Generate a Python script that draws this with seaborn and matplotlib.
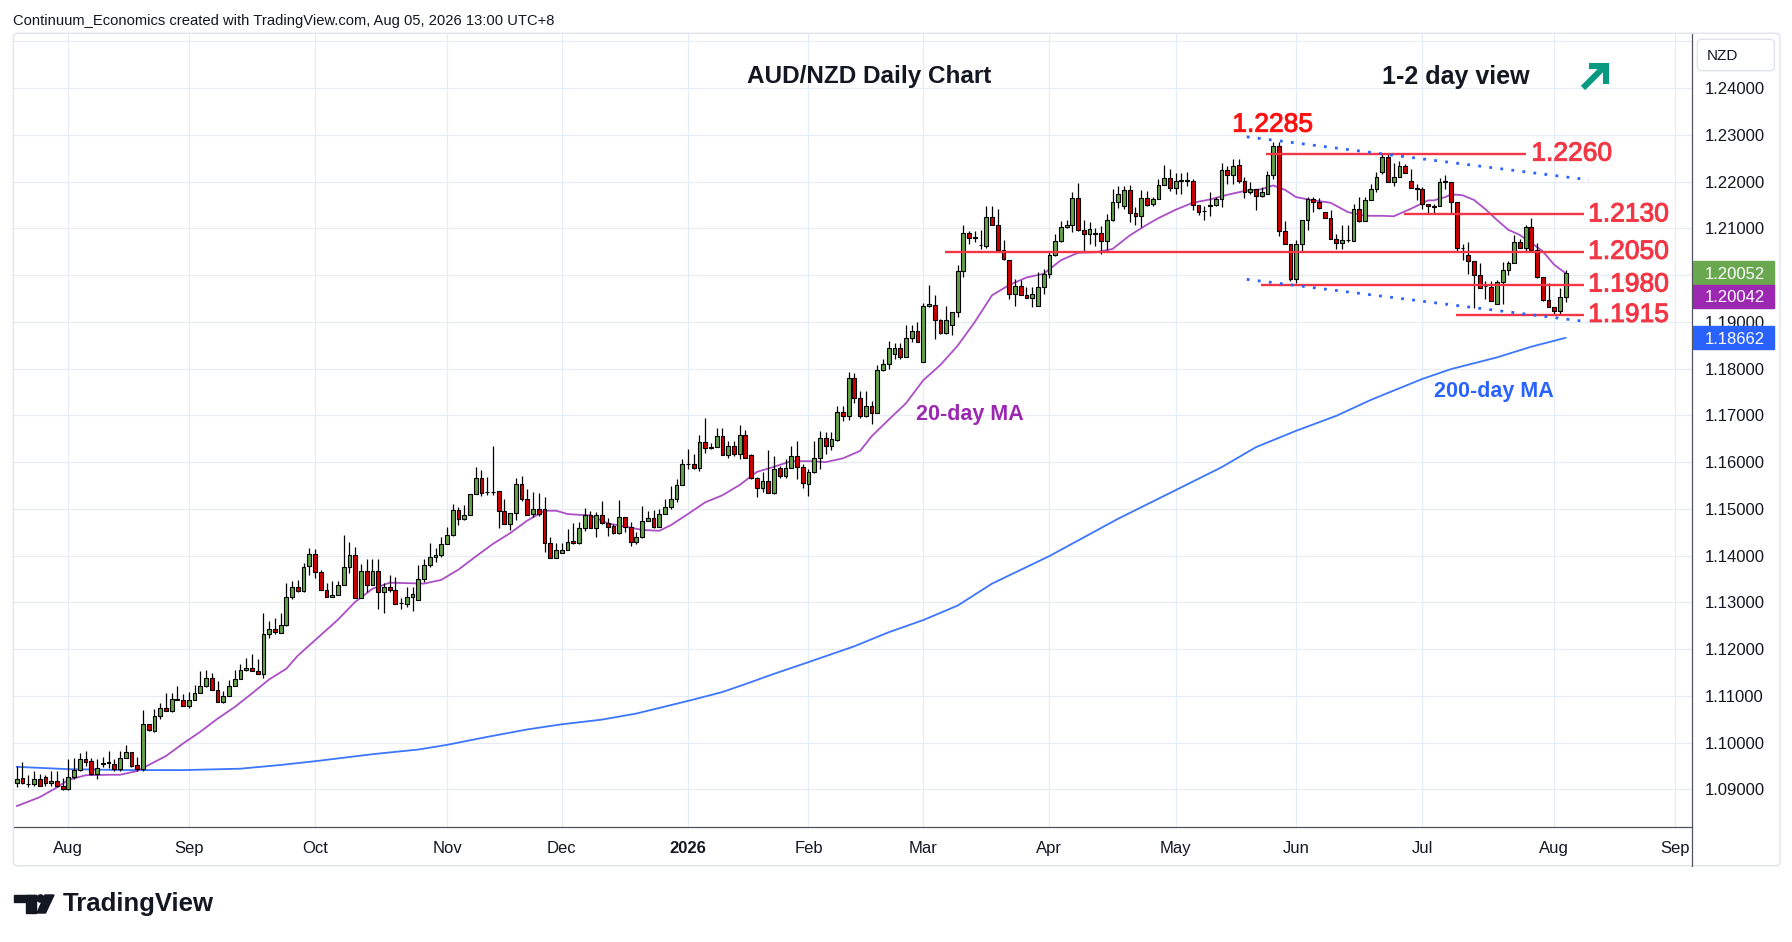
import numpy as np
import pandas as pd
import seaborn as sns
import matplotlib.pyplot as plt
import matplotlib.patheffects as pe
from matplotlib.patches import Rectangle, FancyBboxPatch, Circle, Polygon
from matplotlib.transforms import blended_transform_factory

# AUD/NZD daily candles, 21 Jul 2025 - 5 Aug 2026
opens = [
    1.0913, 1.0924, 1.0912, 1.0911, 1.0921, 1.0926, 1.0913, 1.0918, 1.0906, 1.0900,
    1.0926, 1.0941, 1.0964, 1.0960, 1.0933, 1.0953, 1.0957, 1.0955, 1.0943, 1.0966,
    1.0979, 1.0951, 1.0943, 1.1039, 1.1025, 1.1057, 1.1073, 1.1068, 1.1094, 1.1092,
    1.1079, 1.1090, 1.1107, 1.1120, 1.1139, 1.1113, 1.1087, 1.1099, 1.1122, 1.1135,
    1.1156, 1.1160, 1.1154, 1.1147, 1.1233, 1.1242, 1.1235, 1.1252, 1.1312, 1.1333,
    1.1325, 1.1377, 1.1404, 1.1365, 1.1327, 1.1312, 1.1316, 1.1338, 1.1375, 1.1402,
    1.1309, 1.1368, 1.1338, 1.1368, 1.1321, 1.1333, 1.1327, 1.1299, 1.1297, 1.1312,
    1.1306, 1.1350, 1.1380, 1.1397, 1.1402, 1.1425, 1.1444, 1.1498, 1.1478, 1.1487,
    1.1532, 1.1566, 1.1537, 1.1536, 1.1538, 1.1495, 1.1468, 1.1491, 1.1553, 1.1521,
    1.1490, 1.1500, 1.1500, 1.1427, 1.1395, 1.1406, 1.1411, 1.1431, 1.1426, 1.1460,
    1.1487, 1.1460, 1.1486, 1.1469, 1.1463, 1.1448, 1.1482, 1.1461, 1.1428, 1.1440,
    1.1475, 1.1480, 1.1462, 1.1488, 1.1503, 1.1522, 1.1550, 1.1595, 1.1595, 1.1588,
    1.1642, 1.1630, 1.1632, 1.1655, 1.1615, 1.1635, 1.1617, 1.1657, 1.1615, 1.1566,
    1.1545, 1.1559, 1.1534, 1.1588, 1.1571, 1.1588, 1.1614, 1.1590, 1.1554, 1.1578,
    1.1608, 1.1652, 1.1635, 1.1648, 1.1708, 1.1698, 1.1780, 1.1738, 1.1699, 1.1719,
    1.1705, 1.1797, 1.1809, 1.1831, 1.1844, 1.1824, 1.1865, 1.1880, 1.1814, 1.1934,
    1.1937, 1.1903, 1.1877, 1.1893, 1.1922, 1.2008, 1.2091, 1.2080, 1.2065, 1.2063,
    1.2125, 1.2108, 1.2053, 1.2032, 1.1959, 1.1977, 1.1957, 1.1952, 1.1935, 1.1974,
    1.2003, 1.2043, 1.2074, 1.2102, 1.2108, 1.2166, 1.2097, 1.2087, 1.2087, 1.2091,
    1.2073, 1.2119, 1.2157, 1.2148, 1.2183, 1.2134, 1.2126, 1.2165, 1.2152, 1.2163,
    1.2193, 1.2208, 1.2187, 1.2202, 1.2203, 1.2202, 1.2150, 1.2137, 1.2148, 1.2150,
    1.2163, 1.2225, 1.2214, 1.2236, 1.2201, 1.2179, 1.2184, 1.2169, 1.2174, 1.2214,
    1.2277, 1.2095, 1.2067, 1.1991, 1.2067, 1.2117, 1.2162, 1.2157, 1.2136, 1.2122,
    1.2077, 1.2068, 1.2075, 1.2073, 1.2142, 1.2116, 1.2160, 1.2184, 1.2220, 1.2252,
    1.2199, 1.2210, 1.2234, 1.2202, 1.2186, 1.2184, 1.2152, 1.2147, 1.2149, 1.2200,
    1.2200, 1.2156, 1.2058, 1.2044, 1.2030, 1.2000, 1.1976, 1.1975, 1.1939, 1.1985,
    1.2011, 1.2025, 1.2071, 1.2058, 1.2104, 1.2053, 1.1996, 1.1947, 1.1932, 1.1923, 1.1953,
]
highs = [
    1.0950, 1.0958, 1.0930, 1.0939, 1.0933, 1.0931, 1.0938, 1.0938, 1.0924, 1.0965,
    1.0967, 1.0977, 1.0982, 1.0967, 1.0964, 1.0968, 1.0982, 1.0965, 1.0982, 1.0994,
    1.0979, 1.0968, 1.1069, 1.1039, 1.1071, 1.1085, 1.1105, 1.1105, 1.1122, 1.1103,
    1.1109, 1.1124, 1.1152, 1.1156, 1.1149, 1.1132, 1.1110, 1.1133, 1.1156, 1.1168,
    1.1181, 1.1190, 1.1178, 1.1278, 1.1260, 1.1266, 1.1278, 1.1341, 1.1346, 1.1348,
    1.1385, 1.1417, 1.1414, 1.1370, 1.1342, 1.1345, 1.1345, 1.1445, 1.1428, 1.1419,
    1.1382, 1.1393, 1.1393, 1.1392, 1.1342, 1.1358, 1.1355, 1.1309, 1.1332, 1.1332,
    1.1380, 1.1393, 1.1427, 1.1416, 1.1440, 1.1461, 1.1511, 1.1505, 1.1509, 1.1532,
    1.1589, 1.1583, 1.1569, 1.1635, 1.1538, 1.1521, 1.1491, 1.1566, 1.1570, 1.1542,
    1.1535, 1.1533, 1.1525, 1.1439, 1.1427, 1.1427, 1.1457, 1.1470, 1.1471, 1.1502,
    1.1495, 1.1493, 1.1517, 1.1480, 1.1468, 1.1519, 1.1482, 1.1472, 1.1451, 1.1507,
    1.1495, 1.1497, 1.1499, 1.1522, 1.1548, 1.1563, 1.1606, 1.1629, 1.1617, 1.1657,
    1.1694, 1.1640, 1.1674, 1.1674, 1.1646, 1.1646, 1.1679, 1.1668, 1.1617, 1.1568,
    1.1578, 1.1625, 1.1614, 1.1591, 1.1606, 1.1634, 1.1646, 1.1597, 1.1586, 1.1646,
    1.1667, 1.1665, 1.1664, 1.1721, 1.1721, 1.1792, 1.1790, 1.1753, 1.1753, 1.1730,
    1.1808, 1.1820, 1.1859, 1.1855, 1.1855, 1.1893, 1.1893, 1.1899, 1.1940, 1.1980,
    1.1958, 1.1906, 1.1935, 1.1922, 1.2022, 1.2108, 1.2095, 1.2095, 1.2097, 1.2149,
    1.2148, 1.2142, 1.2076, 1.2032, 1.1991, 1.1989, 1.1975, 1.1974, 1.2006, 1.2013,
    1.2051, 1.2089, 1.2116, 1.2117, 1.2178, 1.2198, 1.2117, 1.2114, 1.2101, 1.2105,
    1.2131, 1.2185, 1.2191, 1.2191, 1.2193, 1.2146, 1.2183, 1.2181, 1.2167, 1.2206,
    1.2236, 1.2227, 1.2218, 1.2218, 1.2220, 1.2206, 1.2150, 1.2147, 1.2179, 1.2167,
    1.2241, 1.2233, 1.2248, 1.2248, 1.2211, 1.2199, 1.2184, 1.2189, 1.2223, 1.2285,
    1.2285, 1.2116, 1.2067, 1.2075, 1.2117, 1.2167, 1.2167, 1.2165, 1.2136, 1.2140,
    1.2089, 1.2108, 1.2108, 1.2152, 1.2167, 1.2167, 1.2196, 1.2220, 1.2261, 1.2261,
    1.2241, 1.2244, 1.2237, 1.2228, 1.2194, 1.2189, 1.2152, 1.2152, 1.2207, 1.2215,
    1.2200, 1.2156, 1.2067, 1.2071, 1.2030, 1.2025, 1.1988, 1.1987, 1.1990, 1.2029,
    1.2030, 1.2086, 1.2078, 1.2108, 1.2123, 1.2069, 1.1996, 1.1983, 1.1932, 1.1973, 1.2012,
]
lows = [
    1.0904, 1.0911, 1.0904, 1.0906, 1.0906, 1.0908, 1.0907, 1.0904, 1.0899, 1.0898,
    1.0921, 1.0938, 1.0950, 1.0931, 1.0923, 1.0948, 1.0945, 1.0940, 1.0938, 1.0966,
    1.0948, 1.0940, 1.0940, 1.1024, 1.1023, 1.1050, 1.1067, 1.1066, 1.1090, 1.1078,
    1.1073, 1.1090, 1.1105, 1.1119, 1.1113, 1.1087, 1.1085, 1.1099, 1.1120, 1.1135,
    1.1154, 1.1153, 1.1147, 1.1137, 1.1224, 1.1233, 1.1235, 1.1249, 1.1307, 1.1323,
    1.1323, 1.1359, 1.1353, 1.1327, 1.1311, 1.1311, 1.1315, 1.1338, 1.1363, 1.1309,
    1.1309, 1.1322, 1.1336, 1.1286, 1.1277, 1.1323, 1.1296, 1.1286, 1.1291, 1.1282,
    1.1306, 1.1343, 1.1375, 1.1386, 1.1397, 1.1425, 1.1442, 1.1466, 1.1477, 1.1487,
    1.1532, 1.1527, 1.1530, 1.1530, 1.1459, 1.1468, 1.1455, 1.1477, 1.1517, 1.1487,
    1.1482, 1.1484, 1.1407, 1.1395, 1.1394, 1.1406, 1.1411, 1.1424, 1.1424, 1.1453,
    1.1459, 1.1439, 1.1468, 1.1441, 1.1446, 1.1446, 1.1450, 1.1421, 1.1424, 1.1438,
    1.1473, 1.1460, 1.1462, 1.1488, 1.1499, 1.1514, 1.1550, 1.1586, 1.1586, 1.1581,
    1.1620, 1.1627, 1.1632, 1.1615, 1.1609, 1.1612, 1.1606, 1.1609, 1.1563, 1.1525,
    1.1536, 1.1534, 1.1532, 1.1567, 1.1567, 1.1587, 1.1563, 1.1545, 1.1528, 1.1576,
    1.1585, 1.1617, 1.1625, 1.1645, 1.1688, 1.1690, 1.1726, 1.1694, 1.1696, 1.1682,
    1.1705, 1.1795, 1.1800, 1.1820, 1.1821, 1.1824, 1.1856, 1.1856, 1.1814, 1.1932,
    1.1863, 1.1874, 1.1874, 1.1871, 1.1910, 1.1995, 1.2066, 1.2070, 1.2055, 1.2058,
    1.2107, 1.2053, 1.2033, 1.1948, 1.1935, 1.1957, 1.1951, 1.1931, 1.1935, 1.1960,
    1.1993, 1.2040, 1.2072, 1.2100, 1.2092, 1.2095, 1.2050, 1.2067, 1.2062, 1.2045,
    1.2053, 1.2116, 1.2143, 1.2141, 1.2113, 1.2107, 1.2103, 1.2149, 1.2149, 1.2163,
    1.2192, 1.2181, 1.2174, 1.2174, 1.2191, 1.2140, 1.2129, 1.2117, 1.2126, 1.2147,
    1.2145, 1.2194, 1.2194, 1.2198, 1.2165, 1.2173, 1.2139, 1.2167, 1.2174, 1.2205,
    1.2084, 1.2067, 1.1988, 1.1983, 1.2050, 1.2097, 1.2136, 1.2142, 1.2122, 1.2077,
    1.2056, 1.2056, 1.2072, 1.2073, 1.2114, 1.2116, 1.2160, 1.2179, 1.2216, 1.2199,
    1.2191, 1.2209, 1.2219, 1.2186, 1.2160, 1.2142, 1.2132, 1.2131, 1.2147, 1.2184,
    1.2133, 1.2052, 1.2033, 1.2002, 1.1929, 1.1973, 1.1949, 1.1944, 1.1938, 1.1939,
    1.2001, 1.2025, 1.2058, 1.2050, 1.2052, 1.1993, 1.1944, 1.1932, 1.1917, 1.1917, 1.1942,
]
closes = [
    1.0923, 1.0913, 1.0911, 1.0921, 1.0906, 1.0913, 1.0918, 1.0906, 1.0900, 1.0926,
    1.0941, 1.0964, 1.0959, 1.0933, 1.0945, 1.0957, 1.0958, 1.0943, 1.0966, 1.0979,
    1.0950, 1.0943, 1.1039, 1.1026, 1.1056, 1.1073, 1.1068, 1.1094, 1.1092, 1.1079,
    1.1090, 1.1107, 1.1120, 1.1139, 1.1113, 1.1087, 1.1099, 1.1122, 1.1135, 1.1156,
    1.1160, 1.1154, 1.1147, 1.1233, 1.1242, 1.1236, 1.1252, 1.1312, 1.1333, 1.1324,
    1.1376, 1.1404, 1.1365, 1.1327, 1.1312, 1.1316, 1.1338, 1.1375, 1.1402, 1.1309,
    1.1368, 1.1338, 1.1368, 1.1321, 1.1333, 1.1326, 1.1297, 1.1298, 1.1312, 1.1317,
    1.1350, 1.1380, 1.1397, 1.1402, 1.1425, 1.1444, 1.1498, 1.1478, 1.1487, 1.1532,
    1.1566, 1.1534, 1.1536, 1.1537, 1.1495, 1.1468, 1.1491, 1.1553, 1.1521, 1.1487,
    1.1500, 1.1490, 1.1427, 1.1395, 1.1412, 1.1411, 1.1430, 1.1427, 1.1460, 1.1487,
    1.1460, 1.1486, 1.1469, 1.1462, 1.1448, 1.1482, 1.1461, 1.1428, 1.1440, 1.1475,
    1.1480, 1.1462, 1.1488, 1.1503, 1.1522, 1.1550, 1.1595, 1.1596, 1.1588, 1.1642,
    1.1630, 1.1632, 1.1655, 1.1615, 1.1635, 1.1617, 1.1657, 1.1609, 1.1566, 1.1545,
    1.1559, 1.1534, 1.1586, 1.1571, 1.1588, 1.1614, 1.1590, 1.1556, 1.1578, 1.1608,
    1.1652, 1.1635, 1.1650, 1.1708, 1.1698, 1.1780, 1.1738, 1.1699, 1.1719, 1.1705,
    1.1797, 1.1809, 1.1844, 1.1844, 1.1824, 1.1865, 1.1880, 1.1858, 1.1934, 1.1938,
    1.1903, 1.1877, 1.1905, 1.1922, 1.2008, 1.2091, 1.2080, 1.2081, 1.2064, 1.2125,
    1.2108, 1.2053, 1.2035, 1.1959, 1.1977, 1.1957, 1.1952, 1.1959, 1.1974, 1.2003,
    1.2043, 1.2074, 1.2102, 1.2108, 1.2166, 1.2097, 1.2087, 1.2099, 1.2091, 1.2073,
    1.2119, 1.2157, 1.2174, 1.2183, 1.2134, 1.2126, 1.2165, 1.2151, 1.2163, 1.2193,
    1.2208, 1.2187, 1.2202, 1.2203, 1.2202, 1.2150, 1.2136, 1.2138, 1.2150, 1.2163,
    1.2225, 1.2214, 1.2233, 1.2201, 1.2179, 1.2184, 1.2169, 1.2177, 1.2214, 1.2277,
    1.2095, 1.2067, 1.1991, 1.2067, 1.2117, 1.2162, 1.2157, 1.2143, 1.2122, 1.2077,
    1.2068, 1.2075, 1.2075, 1.2142, 1.2116, 1.2160, 1.2184, 1.2209, 1.2252, 1.2199,
    1.2210, 1.2234, 1.2219, 1.2186, 1.2185, 1.2152, 1.2147, 1.2146, 1.2200, 1.2200,
    1.2156, 1.2058, 1.2058, 1.2030, 1.2000, 1.1973, 1.1976, 1.1944, 1.1985, 1.2011,
    1.2025, 1.2071, 1.2059, 1.2104, 1.2053, 1.1996, 1.1947, 1.1932, 1.1923, 1.1953, 1.2005,
]

# moving averages sampled along the chart (bar number -> value)
ma20_bar = [1, 5, 8, 10, 13, 17, 19, 22, 24, 27, 30, 33, 36, 39, 42, 45, 48, 50,
            57, 60, 63, 66, 69, 72, 75, 78, 81, 84, 87, 90, 93, 95, 97,
            98, 101, 104, 107, 110, 113, 115, 118, 121, 124, 127, 130, 133, 136, 139, 142, 145, 148,
            150, 153, 156, 159, 162, 165, 168, 171, 174, 177, 180, 183, 186, 189, 192, 195, 198,
            200, 203, 206, 209, 212, 215, 218, 220, 222, 224, 227, 230, 233, 236, 239, 241, 244, 247,
            248, 250, 251, 253, 255, 257, 259, 261, 263, 265, 267, 269, 271]
ma20_val = [1.0864, 1.0883, 1.0904, 1.0920, 1.0930, 1.0931, 1.0931, 1.0939, 1.0952, 1.0971,
            1.0998, 1.1023, 1.1051, 1.1076, 1.1105, 1.1135, 1.1158, 1.1186,
            1.1263, 1.1301, 1.1329, 1.1342, 1.1341, 1.1340, 1.1348, 1.1370, 1.1398, 1.1425,
            1.1448, 1.1475, 1.1496, 1.1496, 1.1489,
            1.1488, 1.1486, 1.1469, 1.1462, 1.1455, 1.1453, 1.1465, 1.1489, 1.1514, 1.1529,
            1.1551, 1.1579, 1.1590, 1.1602, 1.1602, 1.1600, 1.1608, 1.1624,
            1.1655, 1.1691, 1.1726, 1.1775, 1.1808, 1.1849, 1.1900, 1.1957, 1.1979, 1.1995,
            1.2003, 1.2032, 1.2048, 1.2049, 1.2056, 1.2085, 1.2108,
            1.2122, 1.2140, 1.2155, 1.2162, 1.2172, 1.2180, 1.2184, 1.2192, 1.2183, 1.2167,
            1.2160, 1.2155, 1.2135, 1.2127, 1.2127, 1.2126, 1.2142, 1.2160,
            1.2160, 1.2167, 1.2173, 1.2171, 1.2161, 1.2141, 1.2118, 1.2097, 1.2086, 1.2069,
            1.2051, 1.2022, 1.2004]
ma200_bar = [1, 10, 20, 30, 40, 47, 53, 63, 71, 76, 83, 90, 96, 103, 109, 118, 124, 128,
             133, 139, 147, 153, 159, 165, 171, 181, 187, 193, 203, 211, 217, 224, 231,
             237, 246, 251, 259, 265, 271]
ma200_val = [1.0948, 1.0943, 1.0941, 1.0941, 1.0944, 1.0952, 1.0960, 1.0975, 1.0985, 1.0995,
             1.1012, 1.1028, 1.1039, 1.1049, 1.1062, 1.1089, 1.1108, 1.1125, 1.1147, 1.1172,
             1.1206, 1.1236, 1.1262, 1.1293, 1.1340, 1.1399, 1.1439, 1.1479, 1.1540, 1.1589,
             1.1632, 1.1667, 1.1699, 1.1733, 1.1778, 1.1799, 1.1824, 1.1847, 1.1866]

# key levels and the channel drawn on the chart
levels = [1.2260, 1.2130, 1.2050, 1.1980, 1.1915]
peak = 1.2285
channel_top = [1.2296, 1.2204]
channel_bottom = [1.1991, 1.1900]
last_close, last_ma20, last_ma200 = 1.20052, 1.20042, 1.18662

W, H = 1792, 942
GREEN, RED = '#64a24a', '#d00000'
LEVEL_RED = '#f23645'
GRID = '#e6ecf3'
TEXT = '#131722'

sns.set_theme(style='white')
plt.rcParams['font.family'] = ['Liberation Sans', 'DejaVu Sans']

fig = plt.figure(figsize=(W / 100, H / 100), dpi=100)
ax = fig.add_axes([13.4 / W, 1 - 827.3 / H, (1692 - 13.4) / W, (827.3 - 34) / H])
ax.set_xlim(0.42, 293.0)
ax.set_ylim(1.08186, 1.2516)

# trading days (no bars on Christmas / New Year)
days = pd.bdate_range('2025-07-21', '2026-09-30')
days = days[~days.isin(pd.to_datetime(['2025-12-25', '2026-01-01']))]
bar_no = np.arange(1, len(days) + 1)
month_start = ~pd.Series(days.to_period('M')).duplicated().values
month_start &= days >= '2025-08-01'
tick_pos = bar_no[month_start]
tick_lab = ['2026' if d.month == 1 else d.strftime('%b') for d in days[month_start]]

# grid
for p in np.round(np.arange(1.09, 1.2501, 0.01), 2):
    ax.axhline(p, color=GRID, lw=0.8, zorder=0)
for xp in tick_pos:
    ax.axvline(xp, color=GRID, lw=0.8, zorder=0)

# moving averages
sns.lineplot(x=ma200_bar, y=ma200_val, ax=ax, color='#3b76ff', lw=1.3, sort=False,
             estimator=None, zorder=2)
sns.lineplot(x=ma20_bar, y=ma20_val, ax=ax, color='#ab4fc6', lw=1.3, sort=False,
             estimator=None, zorder=2)

# candles
o, h, l, c = map(np.array, (opens, highs, lows, closes))
x = np.arange(1, len(c) + 1)
up = c >= o
ax.vlines(x, l, h, color='black', lw=0.9, zorder=3)
ax.bar(x, np.maximum(np.abs(c - o), 0.00004), bottom=np.minimum(o, c), width=0.66,
       color=np.where(up, GREEN, RED), edgecolor='black', linewidth=0.8, zorder=4)

# levels
thick = [pe.withStroke(linewidth=0.7, foreground=LEVEL_RED)]
spans = [(218.8, 264.0), (242.8, 274.1), (162.8, 274.1), (217.8, 274.1), (251.8, 274.1)]
for lev, (x0, x1) in zip(levels, spans):
    ax.hlines(lev, x0, x1, color=LEVEL_RED, lw=1.7, zorder=5)
    tx = 265.0 if lev == levels[0] else 274.9
    ax.text(tx, lev, f'{lev:.4f}', color=LEVEL_RED, fontsize=19, ha='left',
            va='center', zorder=6, path_effects=thick)
ax.text(219.9, 1.2322, f'{peak:.4f}', color='#ff1010', fontsize=19, ha='center',
        va='center', zorder=6,
        path_effects=[pe.withStroke(linewidth=0.7, foreground='#ff1010')])

# channel
for ys in (channel_top, channel_bottom):
    ax.plot([215.4, 275.0], ys, color='#2962ff', lw=2.0, ls=(0, (1, 3)), zorder=5)

ax.text(167.2, 1.1708, '20-day MA', color='#9c27b0', fontsize=15.5, fontweight='bold',
        ha='center', va='center_baseline')
ax.text(258.5, 1.1757, '200-day MA', color='#2962ff', fontsize=15.5, fontweight='bold',
        ha='center', va='center_baseline')

# axes
ax.yaxis.tick_right()
yt = np.round(np.arange(1.09, 1.2401, 0.01), 2)
ax.set_yticks(yt)
ax.set_yticklabels([f'{v:.5f}' for v in yt], fontsize=12, color=TEXT)
ax.set_xticks(tick_pos)
ax.set_xticklabels(tick_lab, fontsize=12, color=TEXT)
for t in ax.get_xticklabels():
    if t.get_text() == '2026':
        t.set_fontweight('bold')
ax.tick_params(axis='y', length=0, pad=9.5)
ax.tick_params(axis='x', length=0, pad=10)
ax.grid(False)
for s in ('top', 'left', 'right'):
    ax.spines[s].set_visible(False)
ax.spines['bottom'].set_color('#50535e')
ax.spines['bottom'].set_linewidth(0.9)

# price boxes on the scale
bt = blended_transform_factory(ax.transAxes, ax.transData)
half = 0.0025
for val, yc, col in ((last_close, last_close, '#6aa84f'),
                     (last_ma20, last_close - 0.00505, '#9c27b0'),
                     (last_ma200, last_ma200, '#2962ff')):
    ax.add_patch(Rectangle((1.0003, yc - half), 0.0483, 2 * half, transform=bt,
                           color=col, clip_on=False, zorder=7))
    ax.text(1.0077, yc, f'{val:.5f}', transform=bt, color='white', fontsize=12,
            ha='left', va='center_baseline', zorder=8)

# page furniture in pixel coordinates
ov = fig.add_axes([0, 0, 1, 1])
ov.set_xlim(0, W)
ov.set_ylim(H, 0)
ov.axis('off')
ov.patch.set_alpha(0)
ov.add_patch(FancyBboxPatch((13.4, 33.3), 1780 - 13.4, 865.7 - 33.3,
                            boxstyle='round,pad=0,rounding_size=4', fill=False,
                            ec='#e0e3eb', lw=1.0))
ov.plot([1692, 1692], [33.5, 865.5], color='#50535e', lw=0.9)
ov.add_patch(FancyBboxPatch((1697.4, 39.3), 77, 31.4, boxstyle='round,pad=0,rounding_size=4',
                            fc='white', ec='#e0e3eb', lw=1.0))
ov.text(1707, 55.5, 'NZD', fontsize=11, color=TEXT, ha='left', va='center')

ov.text(13.4, 21, 'Continuum_Economics created with TradingView.com, Aug 05, 2026 13:00 UTC+8',
        fontsize=10.65, color=TEXT, ha='left', va='center')
ov.text(869, 77, 'AUD/NZD Daily Chart', fontsize=17.5, fontweight='bold', color=TEXT,
        ha='center', va='center')
ov.text(1455.5, 77, '1-2 day view', fontsize=18, fontweight='bold', color=TEXT,
        ha='center', va='center')

# up arrow
teal = '#089981'
ov.plot([1583, 1604], [88, 67], color=teal, lw=4.4, solid_capstyle='butt')
ov.plot([1589, 1605.5, 1605.5], [66, 66, 84], color=teal, lw=4.4,
        solid_capstyle='butt', solid_joinstyle='miter')

# TradingView logo
ov.add_patch(Rectangle((14.4, 895), 21.2, 7, color=TEXT))
ov.add_patch(Rectangle((26, 895), 9.6, 18, color=TEXT))
ov.add_patch(Circle((40.5, 898.5), 3.6, color=TEXT))
ov.add_patch(Polygon([(45, 895), (54, 895), (45.5, 913), (37, 913)], color=TEXT))
ov.text(63, 904.5, 'TradingView', fontsize=18.5, fontweight='bold', color=TEXT,
        ha='left', va='center')

fig.savefig('out.png', dpi=100)
